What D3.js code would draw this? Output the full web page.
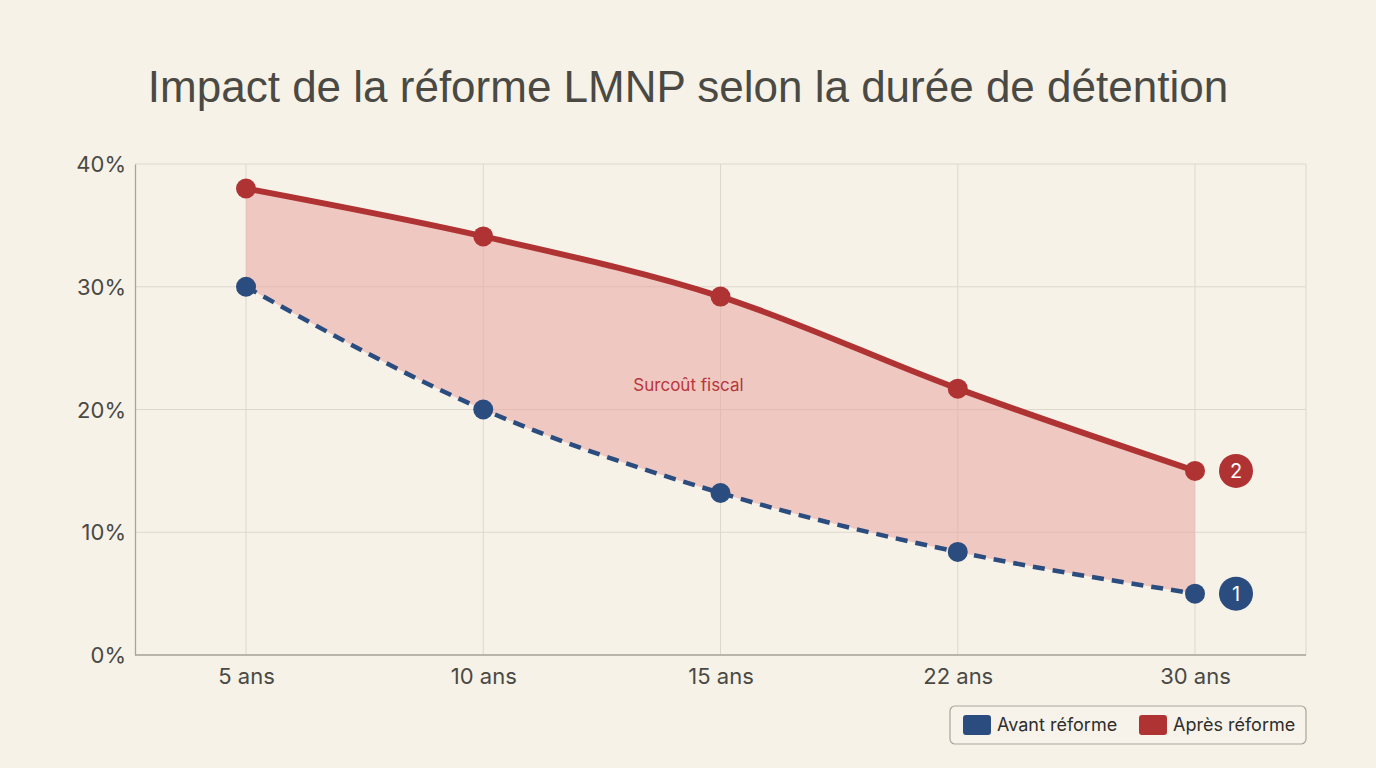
<!DOCTYPE html>
<html><head><meta charset="utf-8">
<script src="https://cdn.jsdelivr.net/npm/d3@7"></script>
<style>
html,body{margin:0;padding:0;background:#f6f2e8;}
svg{display:block;}
</style></head>
<body><svg id="c" width="1376" height="768"></svg>
<script>
const categories = ["5 ans","10 ans","15 ans","22 ans","30 ans"];
const avant = [30, 20, 13.2, 8.4, 5];
const apres = [38, 34.1, 29.2, 21.7, 15];
const yTicks = [0, 10, 20, 30, 40];
const seriesNames = ["Avant réforme","Après réforme"];
const title = "Impact de la réforme LMNP selon la durée de détention";
const areaLabel = "Surcoût fiscal";

const W=1376,H=768;
const m={left:135,right:1306,top:164,bottom:655};
const blue="#2b4c7e", red="#b03333";
const svg=d3.select("#c");
svg.append("rect").attr("width",W).attr("height",H).attr("fill","#f6f2e8");

const x=d3.scalePoint().domain(categories).range([246,1195]);
const y=d3.scaleLinear().domain([0,40]).range([m.bottom,m.top]);

svg.append("text").attr("x",688).attr("y",102).attr("text-anchor","middle")
  .attr("font-family","Liberation Sans, Arial, sans-serif").attr("font-size",44)
  .attr("fill","#4a4944").text(title);

// grid
const g=svg.append("g");
g.selectAll(".hg").data(yTicks).join("line")
  .attr("x1",m.left).attr("x2",m.right).attr("y1",d=>y(d)).attr("y2",d=>y(d))
  .attr("stroke","#ddd8cc").attr("stroke-width",1);
g.selectAll(".vg").data(categories).join("line")
  .attr("x1",d=>x(d)).attr("x2",d=>x(d)).attr("y1",m.top).attr("y2",m.bottom)
  .attr("stroke","#ddd8cc").attr("stroke-width",1);
g.append("line").attr("x1",m.right).attr("x2",m.right).attr("y1",m.top).attr("y2",m.bottom).attr("stroke","#ddd8cc");

const data=categories.map((c,i)=>({c,a:avant[i],b:apres[i]}));
const curve=d3.curveMonotoneX;
svg.append("path").datum(data)
  .attr("d",d3.area().x(d=>x(d.c)).y0(d=>y(d.a)).y1(d=>y(d.b)).curve(curve))
  .attr("fill","#e9a6a3").attr("fill-opacity",0.55);

// axes
const ya=svg.append("g").attr("transform",`translate(${m.left},0)`)
  .call(d3.axisLeft(y).tickValues(yTicks).tickFormat(d=>d+"%").tickSize(0).tickPadding(9));
const xa=svg.append("g").attr("transform",`translate(0,${m.bottom})`)
  .call(d3.axisBottom(x).tickSize(0).tickPadding(11));
xa.select(".domain").attr("d",`M${m.left},0H${m.right}`);
[ya,xa].forEach(a=>{
  a.select(".domain").attr("stroke","#a9a59c").attr("stroke-width",1.3);
  a.selectAll("text").attr("font-family","Inter, Open Sans, sans-serif").attr("font-size",22).attr("fill","#4a4944");
});
ya.selectAll("text").attr("dy","0.35em");
xa.selectAll("text").attr("dy","0.8em");

svg.append("path").datum(data)
  .attr("d",d3.line().x(d=>x(d.c)).y(d=>y(d.a)).curve(curve))
  .attr("fill","none").attr("stroke",blue).attr("stroke-width",4.5).attr("stroke-dasharray","12,8");
svg.append("path").datum(data)
  .attr("d",d3.line().x(d=>x(d.c)).y(d=>y(d.b)).curve(curve))
  .attr("fill","none").attr("stroke",red).attr("stroke-width",6);

svg.selectAll(".pa").data(data).join("circle").attr("cx",d=>x(d.c)).attr("cy",d=>y(d.a)).attr("r",10).attr("fill",blue);
svg.selectAll(".pb").data(data).join("circle").attr("cx",d=>x(d.c)).attr("cy",d=>y(d.b)).attr("r",10).attr("fill",red);

svg.append("text").attr("x",x(categories[2])-32).attr("y",y(22)+6)
  .attr("text-anchor","middle").attr("font-family","Inter, Open Sans, sans-serif").attr("font-size",17)
  .attr("fill","#b8363a").text(areaLabel);

// end badges
const last=data[data.length-1];
[[last.b,red,"2"],[last.a,blue,"1"]].forEach(([v,col,t])=>{
  const bx=x(last.c)+41;
  svg.append("circle").attr("cx",bx).attr("cy",y(v)).attr("r",17).attr("fill",col);
  svg.append("text").attr("x",bx).attr("y",y(v)).attr("dy","0.36em").attr("text-anchor","middle")
    .attr("font-family","Inter, Open Sans, sans-serif").attr("font-size",20).attr("fill","#fff").text(t);
});

// legend
const lg=svg.append("g").attr("transform","translate(950,706)");
lg.append("rect").attr("width",356).attr("height",38).attr("rx",5).attr("fill","#f7f3ea").attr("stroke","#a9a59c").attr("stroke-width",1.2);
const items=[[seriesNames[0],blue,13],[seriesNames[1],red,189]];
items.forEach(([n,col,ox])=>{
  lg.append("rect").attr("x",ox).attr("y",9).attr("width",28).attr("height",20).attr("rx",3).attr("fill",col);
  lg.append("text").attr("x",ox+34).attr("y",19).attr("dy","0.36em").attr("font-family","Inter, Open Sans, sans-serif")
    .attr("font-size",18).attr("fill","#2e2e2a").text(n);
});
</script></body></html>
